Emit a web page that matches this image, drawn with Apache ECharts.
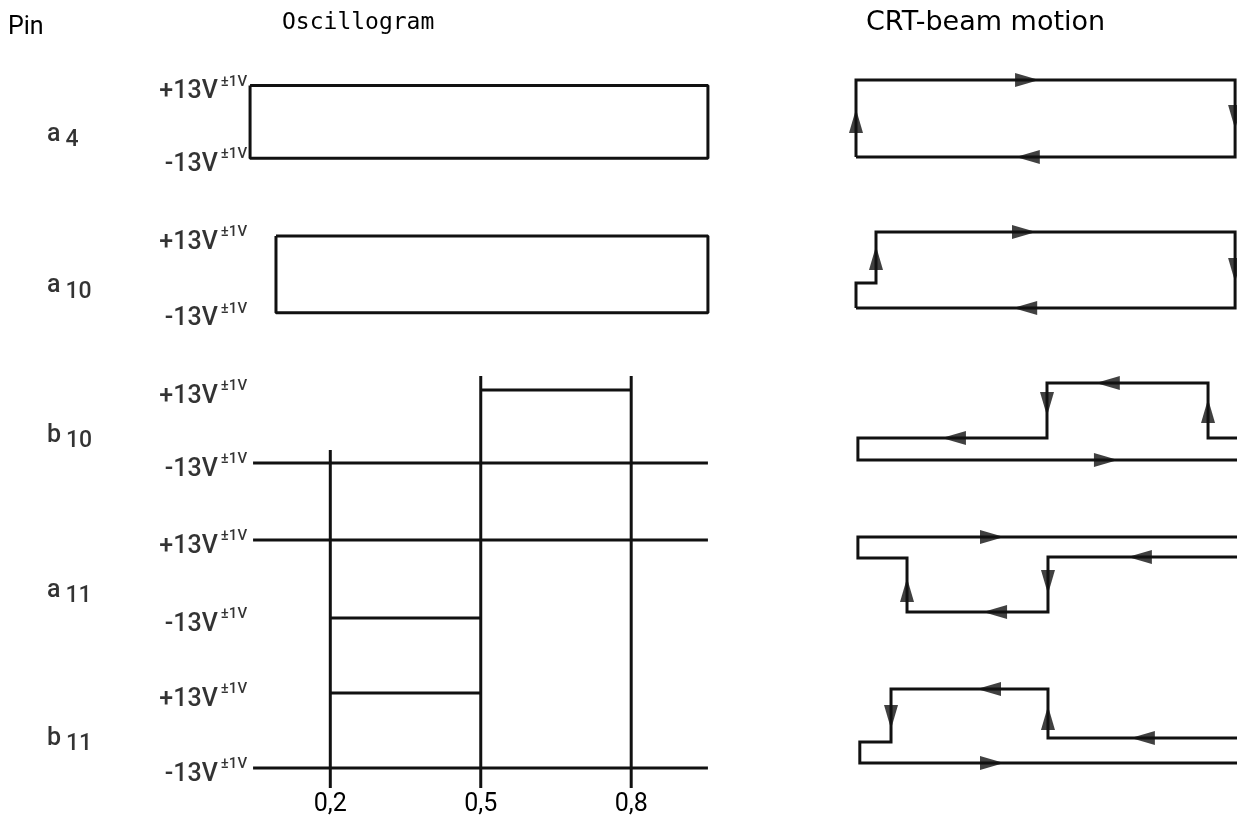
<!DOCTYPE html>
<html><head><meta charset="utf-8">
<script src="https://cdn.jsdelivr.net/npm/echarts@6/dist/echarts.min.js"></script>
<style>html,body{margin:0;padding:0;background:#fff}#c{width:1237px;height:824px}</style>
</head><body><div id="c"></div>
<script>
// ---- data (time axis 0..1 on oscillogram; vertical unit = row pitch) ----
const pins = ["a4", "a10", "b10", "a11", "b11"];
const pinMain = ["a", "a", "b", "a", "b"];
const pinSub = ["4", "10", "10", "11", "11"];
const pinLabelY = [0.33, 1.33, 2.317, 3.34, 4.317];
const highLevel = [-0.01, 0.983, 2.0, 2.99, 4.0];
const lowLevel = [0.47, 1.49, 2.482, 3.505, 4.495];
const highText = "+13V", lowText = "-13V", tolText = "±1V";
const tickValues = [0.2, 0.5, 0.8];
const tickLabels = ["0,2", "0,5", "0,8"];

// oscillogram traces (time, level-row units)
const oscA4 = [[0.04, -0.01], [0.953, -0.01], [0.953, 0.47], [0.04, 0.47], [0.04, -0.01]];
const oscA10 = [[0.0917, 0.983], [0.953, 0.983], [0.953, 1.49], [0.0917, 1.49], [0.0917, 0.983]];
const oscB10High = [[0.5, 2.0], [0.8, 2.0]];
const oscB10Low = [[0.046, 2.482], [0.953, 2.482]];
const oscA11High = [[0.046, 2.99], [0.953, 2.99]];
const oscA11Low = [[0.2, 3.505], [0.5, 3.505]];
const oscB11High = [[0.2, 4.0], [0.5, 4.0]];
const oscB11Low = [[0.046, 4.495], [0.953, 4.495]];
const oscEdge02 = [[0.2, 2.396], [0.2, 4.627]];
const oscEdge05 = [[0.5, 1.908], [0.5, 4.627]];
const oscEdge08 = [[0.8, 1.908], [0.8, 4.627]];

// CRT beam paths (horizontal deflection 0..100, row units)
const crtA4 = [[0, 0.462], [0, -0.046], [99.5, -0.046], [99.5, 0.462], [0, 0.462]];
const crtA10 = [[0, 1.459], [0, 1.294], [5.25, 1.294], [5.25, 0.957], [99.5, 0.957], [99.5, 1.459], [0, 1.459]];
const crtB10 = [[100, 2.317], [92.4, 2.317], [92.4, 1.954], [50.13, 1.954], [50.13, 2.317], [0.5, 2.317], [0.5, 2.462], [100, 2.462]];
const crtA11 = [[100, 3.102], [50.39, 3.102], [50.39, 3.465], [13.39, 3.465], [13.39, 3.109], [0.5, 3.109], [0.5, 2.970], [100, 2.970]];
const crtB11 = [[100, 4.297], [50.39, 4.297], [50.39, 3.974], [9.19, 3.974], [9.19, 4.323], [1.0, 4.323], [1.0, 4.462], [100, 4.462]];
// arrows: [x, y, direction]
const crtArrows = [
  [44.9, -0.046, "R"], [45.1, 0.462, "L"], [99.5, 0.198, "D"], [0, 0.224, "U"],
  [44.1, 0.957, "R"], [5.25, 1.129, "U"], [99.5, 1.208, "D"], [44.4, 1.459, "L"],
  [65.6, 2.462, "R"], [25.7, 2.317, "L"], [50.13, 2.092, "D"], [66.1, 1.954, "L"], [92.4, 2.139, "U"],
  [35.7, 2.970, "R"], [13.39, 3.32, "U"], [36.5, 3.465, "L"], [50.39, 3.267, "D"], [74.5, 3.102, "L"],
  [35.7, 4.462, "R"], [9.19, 4.158, "D"], [34.9, 3.974, "L"], [50.39, 4.165, "U"], [75.3, 4.297, "L"]
];

const ink = "#000";
const oscTraces = [oscA4, oscA10, oscB10High, oscB10Low, oscA11High, oscA11Low, oscB11High, oscB11Low, oscEdge02, oscEdge05, oscEdge08];
const crtTraces = [crtA4, crtA10, crtB10, crtA11, crtB11];
const rot = { U: 0, L: 90, D: 180, R: -90 };

const chart = echarts.init(document.getElementById("c"), null, { renderer: "canvas" });
const yBase = { type: "value", min: -0.4, max: 4.627, inverse: true, show: false };
const series = [];
oscTraces.forEach(t => series.push({ type: "line", xAxisIndex: 0, yAxisIndex: 0, data: t, showSymbol: false, clip: false, silent: true, lineStyle: { color: "#111", width: 3 }, animation: false }));
crtTraces.forEach(t => series.push({ type: "line", xAxisIndex: 1, yAxisIndex: 1, data: t, showSymbol: false, silent: true, lineStyle: { color: "#111", width: 3, join: "miter" }, animation: false }));
series.push({
  type: "scatter", xAxisIndex: 1, yAxisIndex: 1, clip: false, animation: false,
  data: crtArrows.map(a => ({ value: [a[0], a[1]], symbolRotate: rot[a[2]] })),
  symbol: "triangle", symbolSize: [14, 24], itemStyle: { color: "#111" }
});
// voltage labels
const voltData = [];
highLevel.forEach(y => voltData.push({ value: [0.04, y], name: highText }));
lowLevel.forEach(y => voltData.push({ value: [0.04, y], name: lowText }));
const labelFont = "Roboto,sans-serif";
series.push({
  type: "scatter", xAxisIndex: 0, yAxisIndex: 0, clip: false, animation: false, symbolSize: 0,
  data: voltData,
  label: {
    show: true, position: "left", distance: 3, offset: [0, 4],
    formatter: p => "{v|" + p.name + "}{s|" + tolText + "}",
    rich: {
      v: { fontSize: 25, fontFamily: labelFont, fontWeight: 500, color: ink, lineHeight: 30, verticalAlign: "bottom" },
      s: { fontSize: 15, fontFamily: labelFont, fontWeight: 500, color: ink, lineHeight: 30, verticalAlign: "top", padding: [0, 0, 0, 3] }
    }
  }
});
// pin labels
series.push({
  type: "scatter", xAxisIndex: 0, yAxisIndex: 0, clip: false, animation: false, symbolSize: 0,
  data: pins.map((p, i) => ({ value: [-0.365, pinLabelY[i]], name: p })),
  label: {
    show: true, position: "right", distance: 0,
    formatter: p => "{m|" + pinMain[p.dataIndex] + "}{s|" + pinSub[p.dataIndex] + "}",
    rich: {
      m: { fontSize: 25, fontFamily: labelFont, fontWeight: 500, color: ink, lineHeight: 30, verticalAlign: "top", padding: [0, 5, 0, 0] },
      s: { fontSize: 23, fontFamily: labelFont, fontWeight: 500, color: ink, lineHeight: 30, verticalAlign: "bottom" }
    }
  }
});

chart.setOption({
  backgroundColor: "#fff",
  animation: false,
  grid: [
    { left: 230, width: 501.5, top: 26.4, height: 761.6 },
    { left: 856, width: 381, top: 26.4, height: 761.6 }
  ],
  xAxis: [
    {
      type: "value", gridIndex: 0, min: 0, max: 1, interval: 0.1,
      axisLine: { show: false }, axisTick: { show: false }, splitLine: { show: false },
      axisLabel: {
        show: true, margin: 4, fontSize: 25, color: ink, fontFamily: labelFont,
        formatter: v => { const i = tickValues.findIndex(t => Math.abs(t - v) < 1e-6); return i >= 0 ? tickLabels[i] : ""; }
      }
    },
    { type: "value", gridIndex: 1, min: 0, max: 100, show: false }
  ],
  yAxis: [Object.assign({ gridIndex: 0 }, yBase), Object.assign({ gridIndex: 1 }, yBase)],
  graphic: [
    { type: "text", left: 8, top: 15, style: { text: "Pin", fontSize: 25, fontFamily: labelFont, fill: ink } },
    { type: "text", left: 282, top: 12, style: { text: "Oscillogram", fontSize: 23, fontFamily: "'DejaVu Sans Mono',monospace", fill: ink } },
    { type: "text", left: 866, top: 9, style: { text: "CRT-beam motion", fontSize: 27, fontFamily: "'DejaVu Sans',sans-serif", fill: ink } }
  ],
  series: series
});
</script></body></html>
